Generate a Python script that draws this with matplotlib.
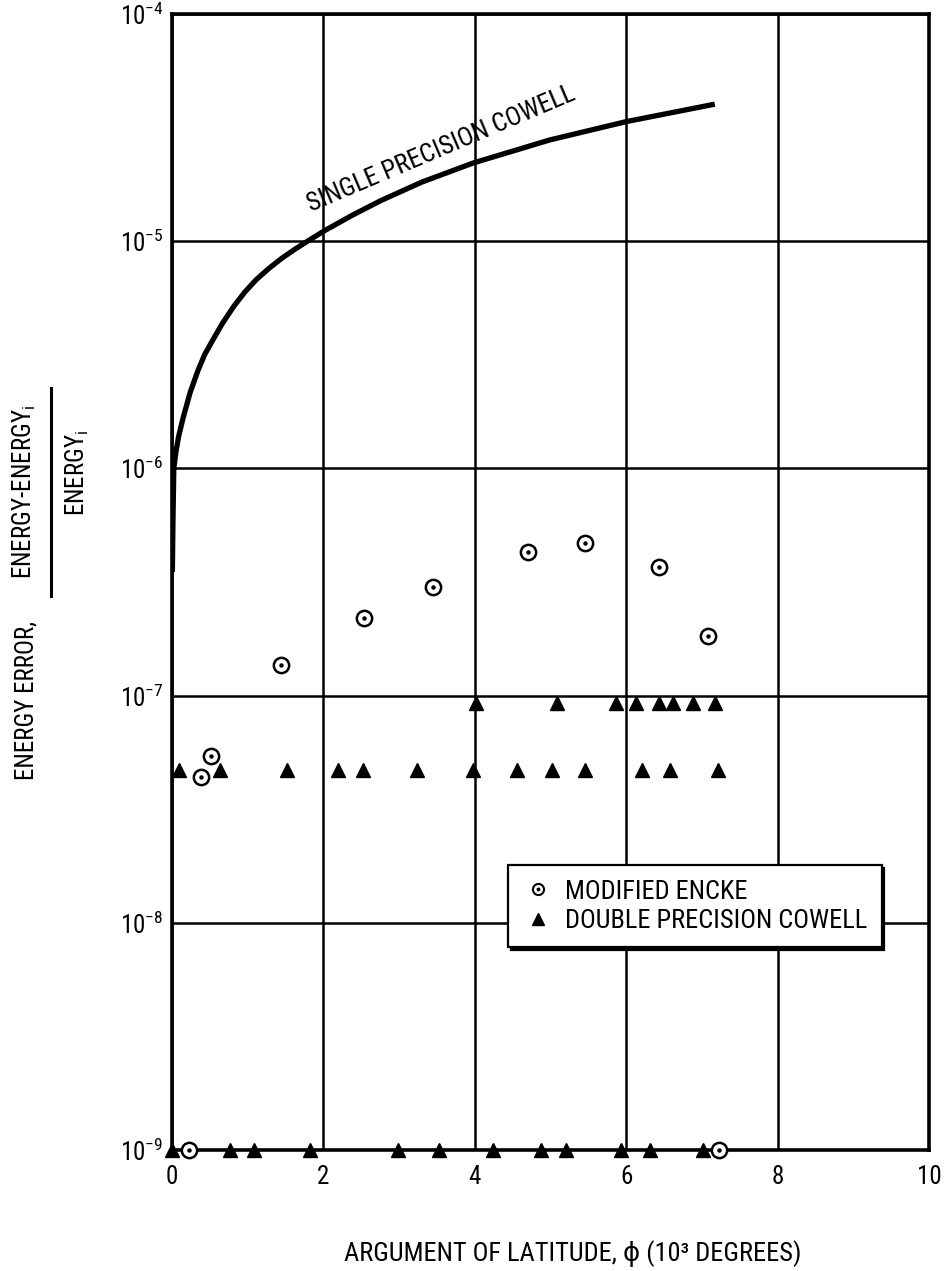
import matplotlib
matplotlib.use("Agg")
import matplotlib.pyplot as plt
from matplotlib.lines import Line2D

FONTS = ['Roboto Condensed', 'Barlow Condensed', 'Archivo Narrow', 'DejaVu Sans']
plt.rcParams['font.family'] = FONTS
plt.rcParams['mathtext.fontset'] = 'custom'
plt.rcParams['mathtext.rm'] = 'Roboto Condensed'
plt.rcParams['mathtext.it'] = 'Roboto Condensed'

# ---------------- data ----------------
x_ticks = [0, 2, 4, 6, 8, 10]
x_tick_labels = ['0', '2', '4', '6', '8', '10']
y_ticks = [1e-9, 1e-8, 1e-7, 1e-6, 1e-5, 1e-4]
y_tick_labels = [r'$\mathregular{10^{-9}}$', r'$\mathregular{10^{-8}}$', r'$\mathregular{10^{-7}}$',
                 r'$\mathregular{10^{-6}}$', r'$\mathregular{10^{-5}}$', r'$\mathregular{10^{-4}}$']

# Single precision Cowell (curve)
cowell_single_x = [0.005, 0.012, 0.024, 0.05, 0.087, 0.145, 0.24, 0.34, 0.43, 0.53, 0.67,
                   0.82, 0.96, 1.11, 1.28, 1.45, 1.62, 1.79, 2.01, 2.38, 2.76, 3.3, 3.98,
                   4.99, 6.0, 7.17]
cowell_single_y = [3.5e-7, 5.6e-7, 1.0e-6, 1.17e-6, 1.38e-6, 1.66e-6, 2.16e-6, 2.68e-6,
                   3.16e-6, 3.63e-6, 4.37e-6, 5.19e-6, 5.96e-6, 6.76e-6, 7.59e-6, 8.41e-6,
                   9.2e-6, 1.0e-5, 1.11e-5, 1.30e-5, 1.51e-5, 1.82e-5, 2.21e-5, 2.79e-5,
                   3.36e-5, 4.01e-5]

# Modified Encke (circles)
encke_x = [0.22, 0.38, 0.52, 1.44, 2.53, 3.45, 4.70, 5.45, 6.43, 7.08, 7.22]
encke_y = [1e-9, 4.4e-8, 5.4e-8, 1.37e-7, 2.2e-7, 3.0e-7, 4.27e-7, 4.69e-7, 3.67e-7, 1.83e-7, 1e-9]

# Double precision Cowell (triangles)
cowell_double_x = [0.09, 0.63, 1.52, 2.19, 2.52, 3.24, 3.98, 4.56, 5.02, 5.46, 6.21, 6.58, 7.21,
                   4.02, 5.09, 5.86, 6.13, 6.43, 6.62, 6.88, 7.17,
                   0.0, 0.77, 1.08, 1.82, 2.98, 3.53, 4.24, 4.88, 5.20, 5.93, 6.32, 7.02]
cowell_double_y = [4.7e-8] * 13 + [9.3e-8] * 8 + [1e-9] * 12

legend_labels = ['MODIFIED ENCKE', 'DOUBLE PRECISION COWELL']
curve_label = 'SINGLE PRECISION COWELL'
x_label = 'ARGUMENT OF LATITUDE, \u03d5 (10\u00b3 DEGREES)'

# ---------------- figure ----------------
W, H = 945, 1271
fig = plt.figure(figsize=(W / 100, H / 100), dpi=100)
ax = fig.add_axes([172 / W, 1 - 1150 / H, 757 / W, 1136 / H])

ax.set_yscale('log')
ax.set_xlim(0, 10)
ax.set_ylim(1e-9, 1e-4)
ax.set_xticks(x_ticks)
ax.set_xticklabels(x_tick_labels)
ax.set_yticks(y_ticks)
ax.set_yticklabels(y_tick_labels)
ax.minorticks_off()
ax.tick_params(axis='both', length=0, labelsize=18, colors='black')
ax.tick_params(axis='x', pad=11)
ax.tick_params(axis='y', pad=6)
ax.grid(True, color='black', lw=1.8)
ax.set_axisbelow(True)
for s in ax.spines.values():
    s.set_linewidth(2.6)
    s.set_color('black')

ax.plot(cowell_single_x, cowell_single_y, color='black', lw=3.8, solid_capstyle='butt',
        solid_joinstyle='round', zorder=3)
ax.text(3.55, 2.55e-5, curve_label, rotation=23, rotation_mode='anchor',
        ha='center', va='center', fontsize=18.5, zorder=4)

ax.plot(encke_x, encke_y, 'o', ms=11, mfc='white', mec='black', mew=1.8,
        ls='none', clip_on=False, zorder=5)
ax.plot(encke_x, encke_y, 'o', ms=2.2, color='black', ls='none', clip_on=False, zorder=6)
ax.plot(cowell_double_x, cowell_double_y, '^', ms=10.5, color='black',
        ls='none', clip_on=False, zorder=5)

h_circ = Line2D([], [], marker='o', ms=8, mfc='white', mec='black', mew=1.5, ls='none')
h_dot = Line2D([], [], marker='o', ms=1.8, color='black', ls='none')
h_tri = Line2D([], [], marker='^', ms=8, color='black', ls='none')
leg = ax.legend([(h_circ, h_dot), h_tri], legend_labels, loc='upper left',
                bbox_to_anchor=((508 - 172) / 757, (1150 - 865) / 1136),
                borderaxespad=0, frameon=True, fancybox=False, fontsize=19,
                handlelength=1.2, handletextpad=0.4, borderpad=0.55, labelspacing=0.2,
                shadow={'facecolor': 'black', 'edgecolor': 'black', 'alpha': 1})
leg.get_frame().set_edgecolor('black')
leg.get_frame().set_linewidth(1.6)
leg.set_zorder(10)

# ---------------- axis labels ----------------
fig.text(573 / W, 1 - 1254 / H, x_label, ha='center', va='center', fontsize=19)
fig.text(27 / W, 1 - 701 / H, 'ENERGY ERROR,', rotation=90, ha='center', va='center', fontsize=18)
fig.text(24 / W, 1 - 492 / H, r'ENERGY-ENERGY$_\mathregular{i}$', rotation=90,
         ha='center', va='center', fontsize=18)
fig.add_artist(Line2D([51 / W, 51 / W], [1 - 388 / H, 1 - 596 / H], color='black', lw=2.2,
                      transform=fig.transFigure))
fig.text(77 / W, 1 - 473 / H, r'ENERGY$_\mathregular{i}$', rotation=90,
         ha='center', va='center', fontsize=18)

fig.savefig('out.png', dpi=100, facecolor='white')
